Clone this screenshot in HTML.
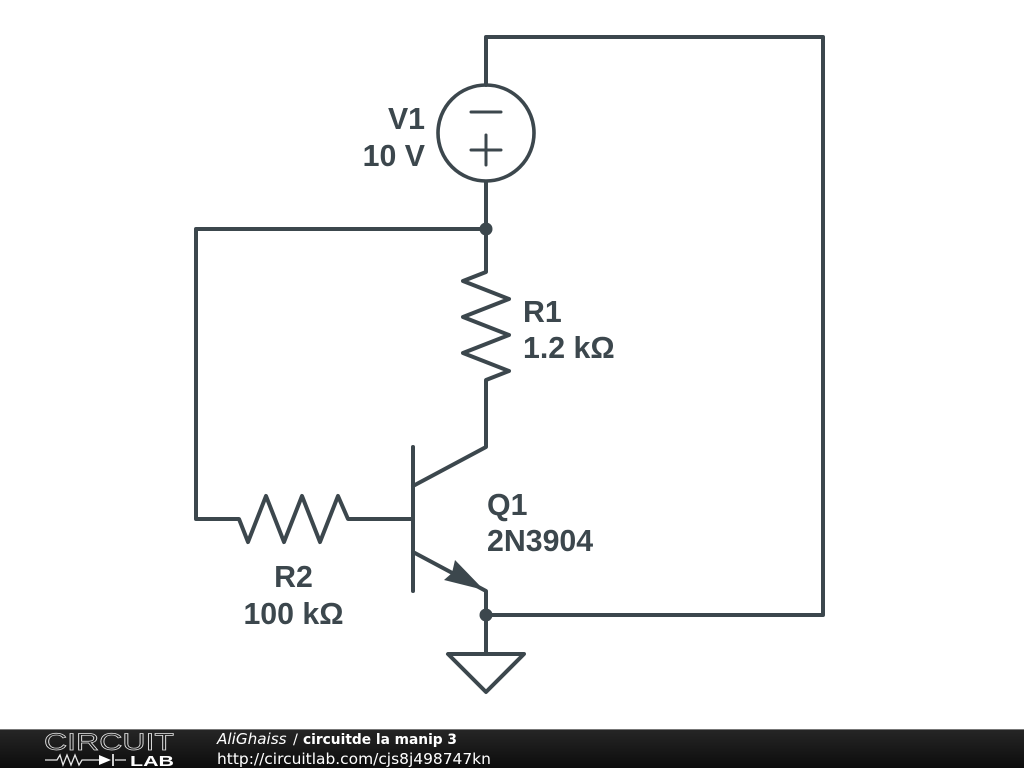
<!DOCTYPE html>
<html>
<head>
<meta charset="utf-8">
<style>
html,body{margin:0;padding:0;background:#fff;width:1024px;height:768px;overflow:hidden}
svg{display:block}
.l{font-family:"Liberation Sans",sans-serif;font-weight:700;font-size:30.3px;fill:#3c474d}
.f{font-family:"DejaVu Sans",sans-serif;fill:#fff}
</style>
</head>
<body>
<svg width="1024" height="768" viewBox="0 0 1024 768" xmlns="http://www.w3.org/2000/svg">
<defs>
<linearGradient id="g" x1="0" y1="0" x2="0" y2="1">
<stop offset="0" stop-color="#262626"/>
<stop offset="1" stop-color="#0c0c0c"/>
</linearGradient>
</defs>
<rect width="1024" height="768" fill="#fff"/>
<g fill="none" stroke="#3c474d" stroke-width="4" stroke-linejoin="round" stroke-linecap="round">
<path d="M486 85V37H823V615H486"/>
<circle cx="486" cy="133" r="48" stroke-width="3.6"/>
<path d="M471 112H501M471 150H501M486 135V165" stroke-width="3"/>
<path d="M486 182V272L463 281L509 299L463 317L509 335L463 353L509 371L486 380V447L413 486"/>
<path d="M486 229H196V519H239L248 542L266 496L284 542L302 496L320 542L338 496L348 519H413"/>
<path d="M413 447V591"/>
<path d="M413 552L486 591V653"/>
<path d="M448 654H524L486 692Z"/>
</g>
<path d="M484 590L455 560L452 573L444 580Z" fill="#3c474d"/>
<circle cx="486" cy="229" r="6.5" fill="#3c474d"/>
<circle cx="486" cy="615" r="6.5" fill="#3c474d"/>
<text class="l" x="425" y="129" text-anchor="end">V1</text>
<text class="l" x="425" y="166" text-anchor="end">10 V</text>
<text class="l" x="523" y="322">R1</text>
<text class="l" x="523" y="358">1.2 kΩ</text>
<text class="l" x="487" y="515">Q1</text>
<text class="l" x="487" y="551">2N3904</text>
<text class="l" x="293.5" y="587" text-anchor="middle">R2</text>
<text class="l" x="293.5" y="624" text-anchor="middle">100 kΩ</text>
<rect y="729" width="1024" height="39" fill="url(#g)"/>
<rect y="729" width="1024" height="1" fill="#777"/>
<text x="44" y="750" font-family="Liberation Sans,sans-serif" font-size="24" fill="none" stroke="#e4e4e4" stroke-width="0.7" textLength="130" lengthAdjust="spacingAndGlyphs">CIRCUIT</text>
<path d="M45 760H57L60 755L63 765L67 755L71 765L75 755L79 765L82 760H99M115 760H126" fill="none" stroke="#e8e8e8" stroke-width="1.3"/>
<path d="M99 755L111 760L99 765Z" fill="#fff"/>
<path d="M113 754V766" stroke="#fff" stroke-width="1.6"/>
<text x="130" y="766" font-family="Liberation Sans,sans-serif" font-weight="700" font-size="15" fill="#fff" textLength="44" lengthAdjust="spacingAndGlyphs">LAB</text>
<text class="f" x="217" y="744" font-size="15.2" font-style="italic">AliGhaiss</text>
<text class="f" x="293" y="744" font-size="14.5">/</text>
<text class="f" x="303" y="744" font-size="14" font-weight="700" textLength="154" lengthAdjust="spacingAndGlyphs">circuitde la manip 3</text>
<text class="f" x="217" y="764" font-size="15.45">http://circuitlab.com/cjs8j498747kn</text>
</svg>
</body>
</html>
